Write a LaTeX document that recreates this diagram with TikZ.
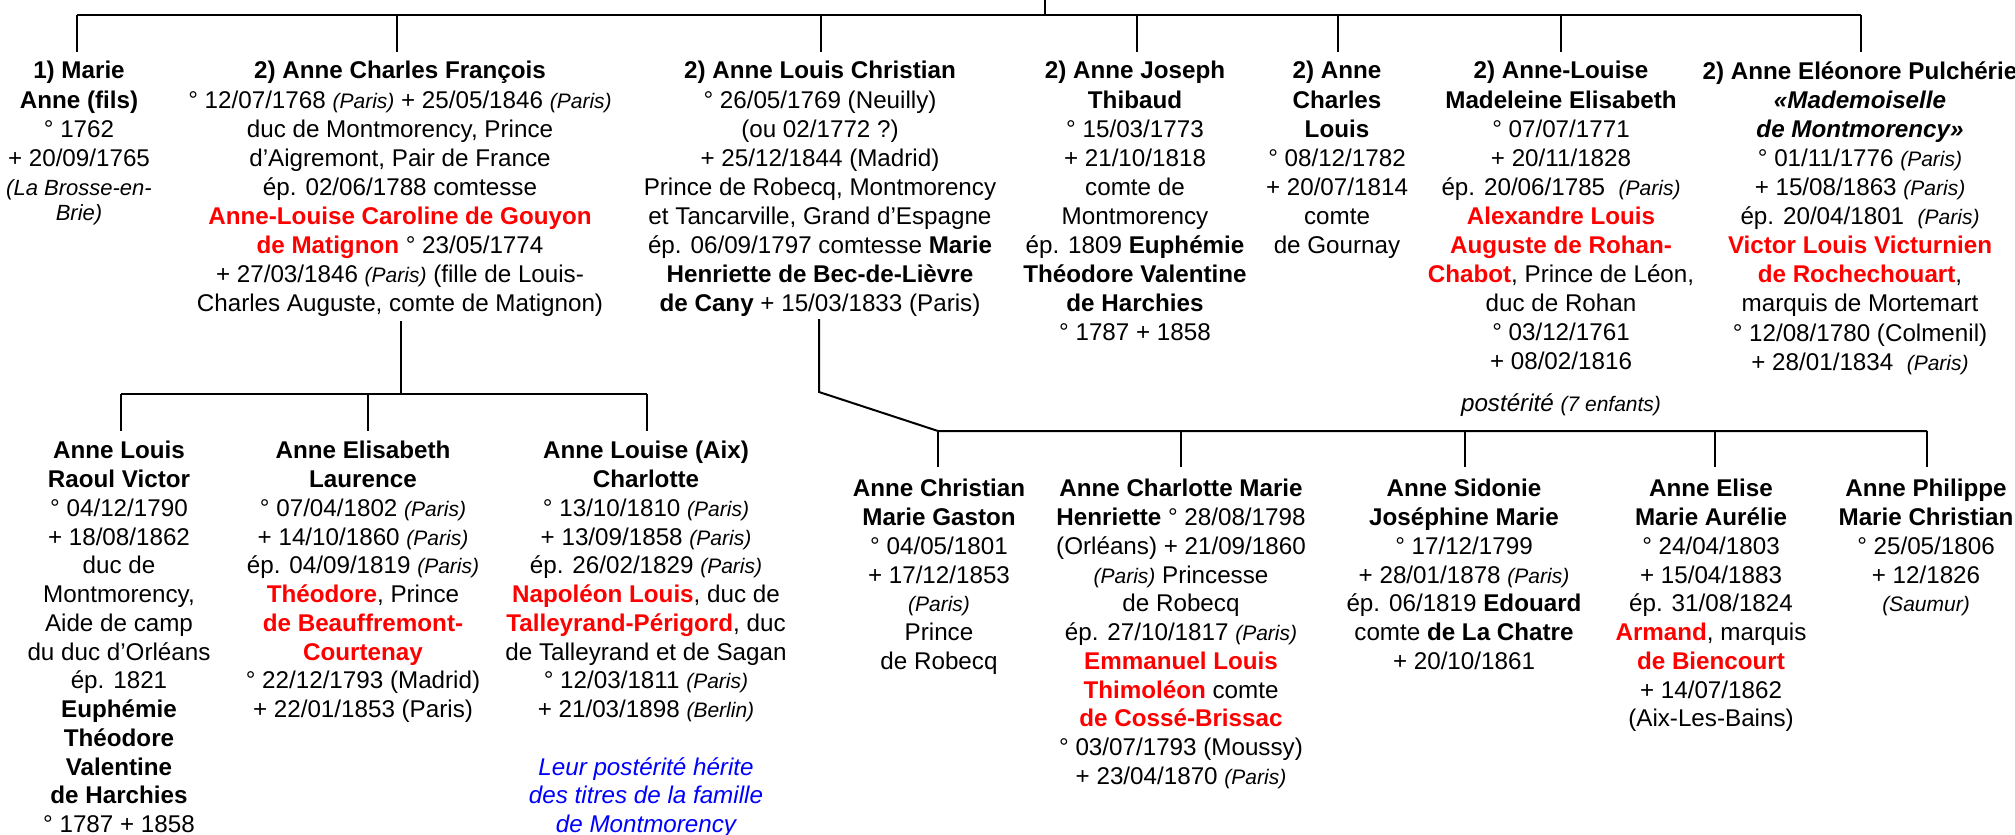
\documentclass[tikz,border=0pt]{standalone}
\usepackage{fontspec}
\setmainfont{Liberation Sans}
\usepackage{xcolor}
\newcommand\pl[1]{{\fontsize{10.5}{14.37}\selectfont\itshape (#1)}}
\newcommand\rd[1]{{\color{red}\bfseries #1}}
\newcommand\bd[1]{{\bfseries #1}}
\begin{document}
\begin{tikzpicture}[x=0.5pt,y=-0.5pt,
  txt/.style={align=center, inner sep=0pt, anchor=north, font=\fontsize{12.1}{14.37}\selectfont,
    execute at begin node={\rule{0pt}{10pt}}},
  toprow/.style={txt, font=\fontsize{12.1}{14.55}\selectfont},
  one/.style={inner sep=0pt, anchor=base, font=\fontsize{12.1}{14.37}\selectfont},
  conn/.style={draw=black, line width=1pt}]
\useasboundingbox (0,0) rectangle (2015,835);
\fill[white] (0,0) rectangle (2015,835);

% ---------- generation 1 (first baseline y=81) ----------
\node[toprow] (c1) at (79,61) {\bd{1) Marie}\\ \bd{Anne (fils)}\\ ° 1762\\ + 20/09/1765\\
  {\fontsize{11}{14}\selectfont\itshape (La Brosse-en-}\\[-1.9pt] {\fontsize{11}{14}\selectfont\itshape Brie)}};
\node[toprow] (c2) at (400,61) {\bd{2) Anne Charles François}\\
  ° 12/07/1768 \pl{Paris} + 25/05/1846 \pl{Paris}\\
  duc de Montmorency, Prince\\
  d’Aigremont, Pair de France\\
  ép. 02/06/1788 comtesse\\
  \rd{Anne-Louise Caroline de Gouyon}\\
  \rd{de Matignon} ° 23/05/1774\\
  + 27/03/1846 \pl{Paris} (fille de Louis-\\
  Charles Auguste, comte de Matignon)};
\node[toprow] (c3) at (820,61) {\bd{2) Anne Louis Christian}\\
  ° 26/05/1769 (Neuilly)\\
  (ou 02/1772 ?)\\
  + 25/12/1844 (Madrid)\\
  Prince de Robecq, Montmorency\\
  et Tancarville, Grand d’Espagne\\
  ép. 06/09/1797 comtesse \bd{Marie}\\
  \bd{Henriette de Bec-de-Lièvre}\\
  \bd{de Cany} + 15/03/1833 (Paris)};
\node[toprow] (c4) at (1135,61) {\bd{2) Anne Joseph}\\ \bd{Thibaud}\\
  ° 15/03/1773\\ + 21/10/1818\\ comte de\\ Montmorency\\
  ép. 1809 \bd{Euphémie}\\ \bd{Théodore Valentine}\\ \bd{de Harchies}\\
  ° 1787 + 1858};
\node[toprow] (c5) at (1337,61) {\bd{2) Anne}\\ \bd{Charles}\\ \bd{Louis}\\
  ° 08/12/1782\\ + 20/07/1814\\ comte\\ de Gournay};
\node[toprow] (c6) at (1561,61) {\bd{2) Anne-Louise}\\ \bd{Madeleine Elisabeth}\\
  ° 07/07/1771\\ + 20/11/1828\\ ép. 20/06/1785 \ \pl{Paris}\\
  \rd{Alexandre Louis}\\ \rd{Auguste de Rohan-}\\ \rd{Chabot}, Prince de Léon,\\
  duc de Rohan\\ ° 03/12/1761\\ + 08/02/1816};
\node[one] (post) at (1561,411) {\itshape postérité \pl{7 enfants}};
\node[toprow] (c7) at (1860,61) {\bd{2) Anne Eléonore Pulchérie}\\
  {\bfseries\itshape «Mademoiselle}\\ {\bfseries\itshape de Montmorency»}\\
  ° 01/11/1776 \pl{Paris}\\ + 15/08/1863 \pl{Paris}\\ ép. 20/04/1801 \ \pl{Paris}\\
  \rd{Victor Louis Victurnien}\\ \rd{de Rochechouart},\\
  marquis de Mortemart\\ ° 12/08/1780 (Colmenil)\\ + 28/01/1834 \ \pl{Paris}};

% ---------- children of Anne Charles François (first baseline y=461) ----------
\node[txt] (l1) at (119,441) {\bd{Anne Louis}\\ \bd{Raoul Victor}\\
  ° 04/12/1790\\ + 18/08/1862\\ duc de\\ Montmorency,\\ Aide de camp\\
  du duc d’Orléans\\ ép. 1821\\ \bd{Euphémie}\\ \bd{Théodore}\\ \bd{Valentine}\\
  \bd{de Harchies}\\ ° 1787 + 1858};
\node[txt] (l2) at (363,441) {\bd{Anne Elisabeth}\\ \bd{Laurence}\\
  ° 07/04/1802 \pl{Paris}\\ + 14/10/1860 \pl{Paris}\\ ép. 04/09/1819 \pl{Paris}\\
  \rd{Théodore}, Prince\\ \rd{de Beauffremont-}\\ \rd{Courtenay}\\
  ° 22/12/1793 (Madrid)\\ + 22/01/1853 (Paris)};
\node[txt] (l3) at (646,441) {\bd{Anne Louise (Aix)}\\ \bd{Charlotte}\\
  ° 13/10/1810 \pl{Paris}\\ + 13/09/1858 \pl{Paris}\\ ép. 26/02/1829 \pl{Paris}\\
  \rd{Napoléon Louis}, duc de\\ \rd{Talleyrand-Périgord}, duc\\
  de Talleyrand et de Sagan\\ ° 12/03/1811 \pl{Paris}\\ + 21/03/1898 \pl{Berlin}\\
  \mbox{}\\
  {\color{blue}\itshape Leur postérité hérite}\\ {\color{blue}\itshape des titres de la famille}\\
  {\color{blue}\itshape de Montmorency}};

% ---------- children of Anne Louis Christian (first baseline y=499) ----------
\node[txt] (r1) at (939,479) {\bd{Anne Christian}\\ \bd{Marie Gaston}\\
  ° 04/05/1801\\ + 17/12/1853\\ \pl{Paris}\\ Prince\\ de Robecq};
\node[txt] (r2) at (1181,479) {\bd{Anne Charlotte Marie}\\
  \bd{Henriette} ° 28/08/1798\\ (Orléans) + 21/09/1860\\
  \pl{Paris} Princesse\\ de Robecq\\ ép. 27/10/1817 \pl{Paris}\\
  \rd{Emmanuel Louis}\\ \rd{Thimoléon} comte\\ \rd{de Cossé-Brissac}\\
  ° 03/07/1793 (Moussy)\\ + 23/04/1870 \pl{Paris}};
\node[txt] (r3) at (1464,479) {\bd{Anne Sidonie}\\ \bd{Joséphine Marie}\\
  ° 17/12/1799\\ + 28/01/1878 \pl{Paris}\\ ép. 06/1819 \bd{Edouard}\\
  comte \bd{de La Chatre}\\ + 20/10/1861};
\node[txt] (r4) at (1711,479) {\bd{Anne Elise}\\ \bd{Marie Aurélie}\\
  ° 24/04/1803\\ + 15/04/1883\\ ép. 31/08/1824\\
  \rd{Armand}, marquis\\ \rd{de Biencourt}\\ + 14/07/1862\\ (Aix-Les-Bains)};
\node[txt] (r5) at (1926,479) {\bd{Anne Philippe}\\ \bd{Marie Christian}\\
  ° 25/05/1806\\ + 12/1826\\ \pl{Saumur}};

% ---------- connectors: generation 1 ----------
\coordinate (root) at (1045,0);
\coordinate (rootj) at (1045,15);
\coordinate (b1) at (77,15);   \coordinate (t1) at (77,52);
\coordinate (b2) at (397,15);  \coordinate (t2) at (397,52);
\coordinate (b3) at (821,15);  \coordinate (t3) at (821,52);
\coordinate (b4) at (1137,15); \coordinate (t4) at (1137,52);
\coordinate (b5) at (1338,15); \coordinate (t5) at (1338,52);
\coordinate (b6) at (1561,15); \coordinate (t6) at (1561,52);
\coordinate (b7) at (1861,15); \coordinate (t7) at (1861,52);
\draw[conn] (root) -- (rootj);
\draw[conn] (b1) -- (b7);
\foreach \i in {1,...,7} { \draw[conn] (b\i) -- (t\i); }

% ---------- connectors: children of c2 ----------
\coordinate (p2) at (401,321);
\coordinate (p2j) at (401,394);
\coordinate (lb1) at (121,394); \coordinate (lt1) at (121,431);
\coordinate (lb2) at (368,394); \coordinate (lt2) at (368,431);
\coordinate (lb3) at (647,394); \coordinate (lt3) at (647,431);
\draw[conn] (p2) -- (p2j);
\draw[conn] (lb1) -- (lb3);
\foreach \i in {1,2,3} { \draw[conn] (lb\i) -- (lt\i); }

% ---------- connectors: children of c3 ----------
\coordinate (p3) at (819,319);
\coordinate (p3k) at (819,392);
\coordinate (rb1) at (938,431);  \coordinate (rt1) at (938,467);
\coordinate (rb2) at (1181,431); \coordinate (rt2) at (1181,467);
\coordinate (rb3) at (1465,431); \coordinate (rt3) at (1465,467);
\coordinate (rb4) at (1715,431); \coordinate (rt4) at (1715,467);
\coordinate (rb5) at (1927,431); \coordinate (rt5) at (1927,467);
\draw[conn, line join=miter] (p3) -- (p3k) -- (rb1) -- (rb5);
\foreach \i in {1,...,5} { \draw[conn] (rb\i) -- (rt\i); }
\end{tikzpicture}
\end{document}
